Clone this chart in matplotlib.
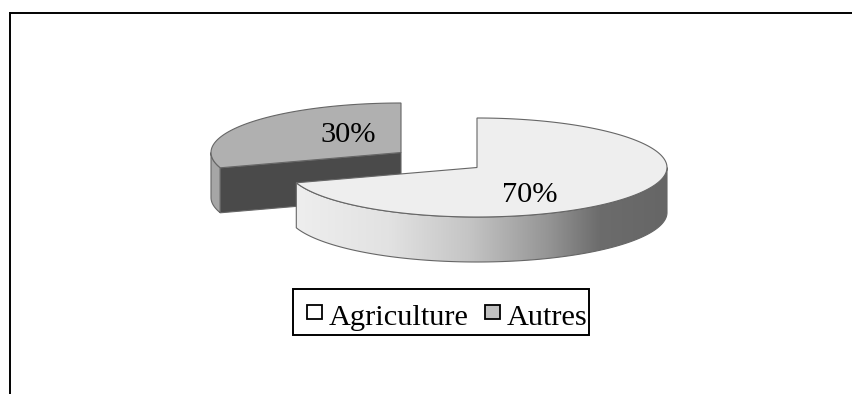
#!/usr/bin/env python3
# -*- coding: utf-8 -*-
import numpy as np
import matplotlib
matplotlib.use('Agg')
import matplotlib.pyplot as plt
from matplotlib.patches import Polygon, Rectangle
from matplotlib.colors import LinearSegmentedColormap

plt.rcParams['font.family'] = ['Liberation Serif', 'DejaVu Serif']

labels = ['Agriculture', 'Autres']
values = [70, 30]
top_colors = ['#eeeeee', '#b0b0b0']
swatch_colors = ['#ffffff', '#c0c0c0']

W, H = 852, 394
rx, ry = 190, 49.5  # ellipse radii of the pie
depth = 45          # thickness of the disc
centers = [(477, 167.5), (401, 152.5)]
edge = '#666666'
fnt = 21.9

# side shading of the large slice, left to right
shade = LinearSegmentedColormap.from_list('shade', [
    (0.00, '#eeeeee'), (0.25, '#e2e2e2'), (0.47, '#c4c4c4'),
    (0.68, '#959595'), (0.82, '#6c6c6c'), (1.00, '#666666')])


def arc(center, a0, a1, n=200):
    # points along the ellipse between two angles (degrees)
    th = np.radians(np.linspace(a0, a1, n))
    return np.column_stack((center[0] + rx*np.cos(th), center[1] - ry*np.sin(th)))


fig = plt.figure(figsize=(W/100, H/100), dpi=100)
ax = fig.add_axes([0, 0, 1, 1])
ax.set_xlim(0, W)
ax.set_ylim(H, 0)
ax.axis('off')

# slices start at 12 o'clock and run clockwise
angles = 90 - 3.6*np.cumsum([0] + values)

#%% small slice, drawn first since the big one sits in front
c = centers[1]
a0, a1 = angles[1], angles[2]
cut = np.array([c, arc(c, a0, a0, 1)[0]])
face = np.vstack((cut, cut[::-1] + [0, depth]))
ax.add_patch(Polygon(face, fc='#4a4a4a', ec=edge, lw=0.8, zorder=2))
outer = arc(c, a0, -180, 40)
ax.add_patch(Polygon(np.vstack((outer, outer[::-1] + [0, depth])),
                     fc='#a6a6a6', ec=edge, lw=0.8, zorder=1))
ax.add_patch(Polygon(np.vstack(([c], arc(c, a1, a0 + 360 if a0 < a1 else a0))),
                     fc=top_colors[1], ec=edge, lw=0.8, zorder=3))

#%% big slice
c = centers[0]
a0, a1 = angles[0], angles[1]
rim = arc(c, 0, a1)
side = Polygon(np.vstack((rim, rim[::-1] + [0, depth])), fc='none', ec=edge, lw=0.8, zorder=5)
ax.add_patch(side)
grad = np.linspace(0, 1, 256).reshape(1, -1)
im = ax.imshow(grad, cmap=shade, aspect='auto', zorder=4,
               extent=(rim[:, 0].min(), rim[:, 0].max(), c[1] + ry + depth, c[1] - ry))
im.set_clip_path(side)
ax.set_xlim(0, W)
ax.set_ylim(H, 0)
ax.add_patch(Polygon(np.vstack(([c], arc(c, a0, a1))), fc=top_colors[0], ec=edge, lw=0.8, zorder=6))

#%% value labels
ax.text(530, 202, str(values[0]) + '%', fontsize=fnt, ha='center', va='baseline', zorder=8)
ax.text(348, 142, str(values[1]) + '%', fontsize=fnt, ha='center', va='baseline', zorder=8)

#%% legend box
ax.add_patch(Rectangle((293, 288.5), 296, 46.5, fc='white', ec='black', lw=1.4, zorder=7))
for x, name, col in zip([306.5, 484.5], labels, swatch_colors):
    ax.add_patch(Rectangle((x, 304.5), 15, 14.5, fc=col, ec='black', lw=1.3, zorder=8))
    ax.text(x + 22.5, 325, name, fontsize=fnt, ha='left', va='baseline', zorder=8)

#%% frame: top and left only
ax.plot([9.5, W], [12.5, 12.5], color='black', lw=1.4, solid_capstyle='butt')
ax.plot([9.5, 9.5], [12, H], color='black', lw=1.4, solid_capstyle='butt')

fig.savefig('out.png', dpi=100)
plt.close()
